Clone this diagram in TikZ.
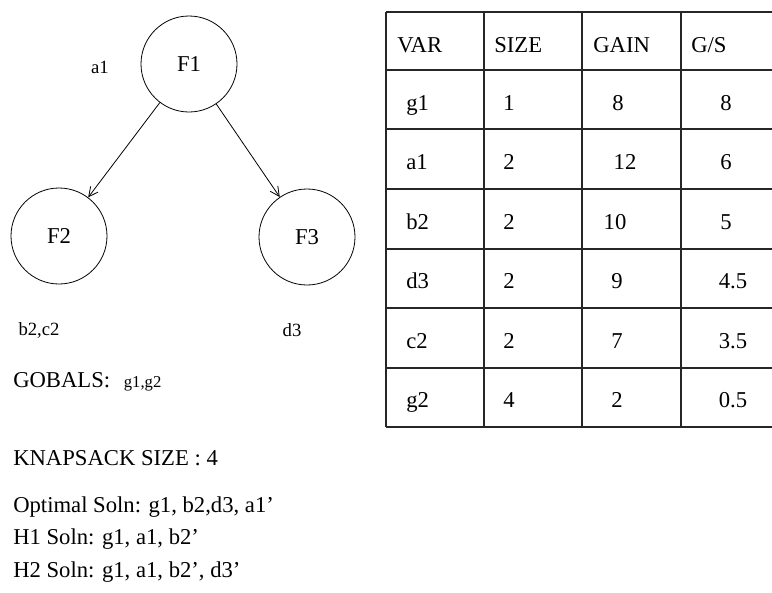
\documentclass[tikz,border=0pt]{standalone}
\usepackage{fontspec}
\setmainfont{Liberation Serif}
\usetikzlibrary{arrows.meta}
\begin{document}
\begin{tikzpicture}[x=0.75pt,y=-0.75pt,
        fnode/.style={shape=circle,draw=black,line width=0.6pt,minimum size=72pt,inner sep=0pt,font=\fontsize{17}{20}\selectfont},
        lbl/.style={inner sep=0pt,font=\fontsize{14}{16}\selectfont},
        txt/.style={anchor=base west,inner sep=0pt,font=\fontsize{17}{20}\selectfont},
        lcell/.style={anchor=base west,inner sep=0pt,font=\fontsize{17}{20}\selectfont},
        vcell/.style={anchor=base,inner sep=0pt,font=\fontsize{17}{20}\selectfont},
        tline/.style={draw=black!85,line width=0.8pt},
        >={Straight Barb[length=7pt,width=7pt]}]
    \useasboundingbox (0,0) rectangle (772,593);

    % graph
    \node[fnode] (A) at (189,64) {F1};
    \node[fnode] (B) at (59,236) {F2};
    \node[fnode] (C) at (307,237) {F3};
    \node[lbl] (la) at (100,67) {a1};
    \node[lbl] (lb) at (39,330) {b2,c2};
    \node[lbl] (lc) at (292,330) {d3};

    \path [line width=0.6pt][->] (A) edge (B);
    \path [line width=0.6pt][->] (A) edge (C);

    % notes
    \node[txt] (glob) at (13,387) {GOBALS:\hspace{0.6em}{\fontsize{12.5}{14}\selectfont g1,g2}};
    \node[txt] (knap) at (13,465) {KNAPSACK SIZE : 4};
    \node[txt] (opt) at (13,512) {Optimal Soln: g1, b2,d3, a1'};
    \node[txt] (hone) at (13,544) {H1 Soln: g1, a1, b2'};
    \node[txt] (htwo) at (13,577) {H2 Soln: g1, a1, b2', d3'};

    % table
    \draw[tline] (386,12) -- (772,12);
    \draw[tline] (386,70) -- (772,70);
    \draw[tline] (386,129) -- (772,129);
    \draw[tline] (386,189) -- (772,189);
    \draw[tline] (386,249) -- (772,249);
    \draw[tline] (386,308) -- (772,308);
    \draw[tline] (386,368) -- (772,368);
    \draw[tline] (386,427) -- (772,427);
    \draw[tline] (386,12) -- (386,427);
    \draw[tline] (484,12) -- (484,427);
    \draw[tline] (582,12) -- (582,427);
    \draw[tline] (681,12) -- (681,427);

    \node[lcell] (hvar) at (397,52) {VAR};
    \node[lcell] (hsize) at (494,52) {SIZE};
    \node[lcell] (hgain) at (593,52) {GAIN};
    \node[lcell] (hgs) at (691,52) {G/S};

    \node[lcell] (v1) at (406,110) {g1};
    \node[vcell] (s1) at (509,110) {1};
    \node[vcell] (g1) at (618,110) {8};
    \node[vcell] (r1) at (726,110) {8};

    \node[lcell] (v2) at (406,169) {a1};
    \node[vcell] (s2) at (509,169) {2};
    \node[vcell] (g2) at (625,169) {12};
    \node[vcell] (r2) at (726,169) {6};

    \node[lcell] (v3) at (406,229) {b2};
    \node[vcell] (s3) at (509,229) {2};
    \node[vcell] (g3) at (615,229) {10};
    \node[vcell] (r3) at (726,229) {5};

    \node[lcell] (v4) at (406,288) {d3};
    \node[vcell] (s4) at (509,288) {2};
    \node[vcell] (g4) at (617,288) {9};
    \node[vcell] (r4) at (733,288) {4.5};

    \node[lcell] (v5) at (406,348) {c2};
    \node[vcell] (s5) at (509,348) {2};
    \node[vcell] (g5) at (617,348) {7};
    \node[vcell] (r5) at (733,348) {3.5};

    \node[lcell] (v6) at (406,407) {g2};
    \node[vcell] (s6) at (509,407) {4};
    \node[vcell] (g6) at (617,407) {2};
    \node[vcell] (r6) at (733,407) {0.5};
\end{tikzpicture}
\end{document}
